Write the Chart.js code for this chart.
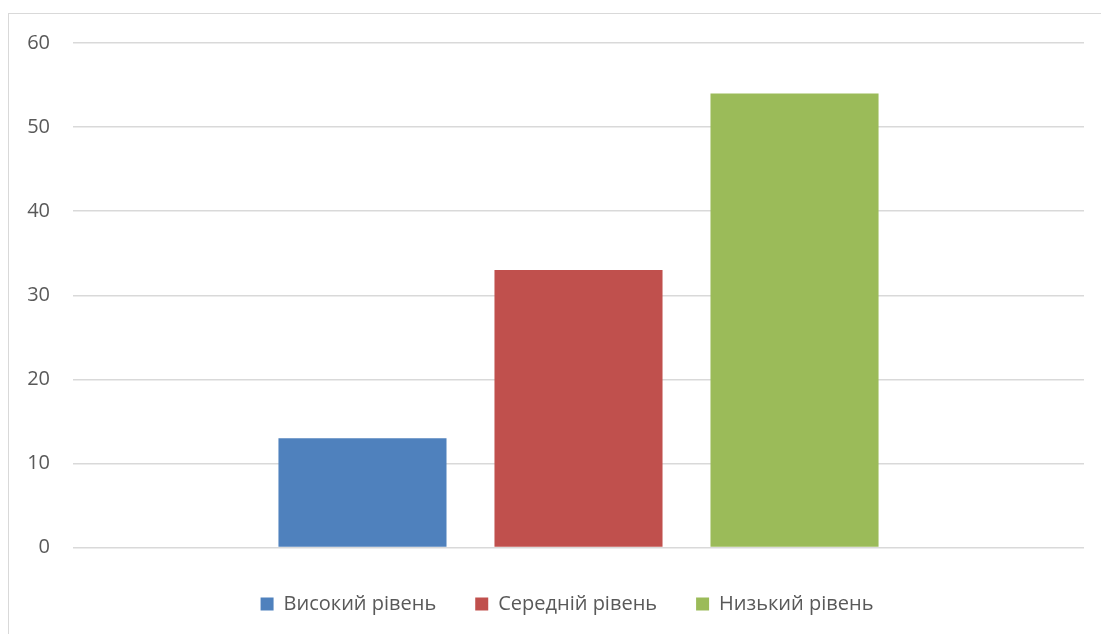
<!DOCTYPE html>
<html>
<head>
<meta charset="utf-8">
<script src="https://cdn.jsdelivr.net/npm/chart.js@4/dist/chart.umd.min.js"></script>
<style>
  html, body { margin: 0; padding: 0; background: #fff; overflow: hidden; }
  #wrap { position: relative; width: 1101px; height: 634px; }
  #frame { position: absolute; left: 8px; top: 13px; width: 1300px; height: 900px; border: 1.5px solid #d9d9d9; box-sizing: border-box; }
  canvas { position: absolute; left: 0; top: 0; }
</style>
</head>
<body>
<div id="wrap">
  <div id="frame"></div>
  <canvas id="c" width="1101" height="634"></canvas>
</div>
<script>
const categories = [''];
const seriesNames = ['Високий рівень', 'Середній рівень', 'Низький рівень'];
const seriesValues = [[13], [33], [54]];
const seriesColors = ['#4f81bd', '#c0504d', '#9bbb59'];
const yTicks = [0, 10, 20, 30, 40, 50, 60];

const FONT = "'Open Sans', 'Liberation Sans', Arial, sans-serif";

const legendShift = {
  id: 'legendShift',
  afterLayout(chart) {
    if (chart.legend) { chart.legend.left += 25; chart.legend.right += 25; }
  }
};

new Chart(document.getElementById('c'), {
  type: 'bar',
  data: {
    labels: categories,
    datasets: seriesNames.map((n, i) => ({
      label: n,
      data: seriesValues[i],
      backgroundColor: seriesColors[i],
      borderWidth: 0,
      categoryPercentage: 0.641,
      barPercentage: 0.778
    }))
  },
  options: {
    responsive: false,
    animation: false,
    devicePixelRatio: 1,
    layout: { padding: { left: 0, right: 17, top: 43, bottom: 10 } },
    scales: {
      x: {
        display: true,
        grid: { display: false, drawTicks: false },
        border: { display: false },
        ticks: { padding: -3.5, font: { size: 12, family: FONT } }
      },
      y: {
        min: yTicks[0], max: yTicks[yTicks.length - 1],
        afterBuildTicks: (s) => { s.ticks = yTicks.map(v => ({ value: v })); },
        afterFit: (s) => { s.width = 73; },
        grid: { color: '#d9d9d9', lineWidth: 1.5, drawTicks: false },
        border: { display: false },
        ticks: { padding: 23, color: '#595959', font: { size: 20, family: FONT } }
      }
    },
    plugins: {
      legend: {
        position: 'bottom',
        labels: {
          boxWidth: 13, boxHeight: 13, padding: 39,
          color: '#595959',
          font: { size: 20, family: FONT }
        }
      },
      tooltip: { enabled: false }
    }
  },
  plugins: [legendShift]
});
</script>
</body>
</html>
